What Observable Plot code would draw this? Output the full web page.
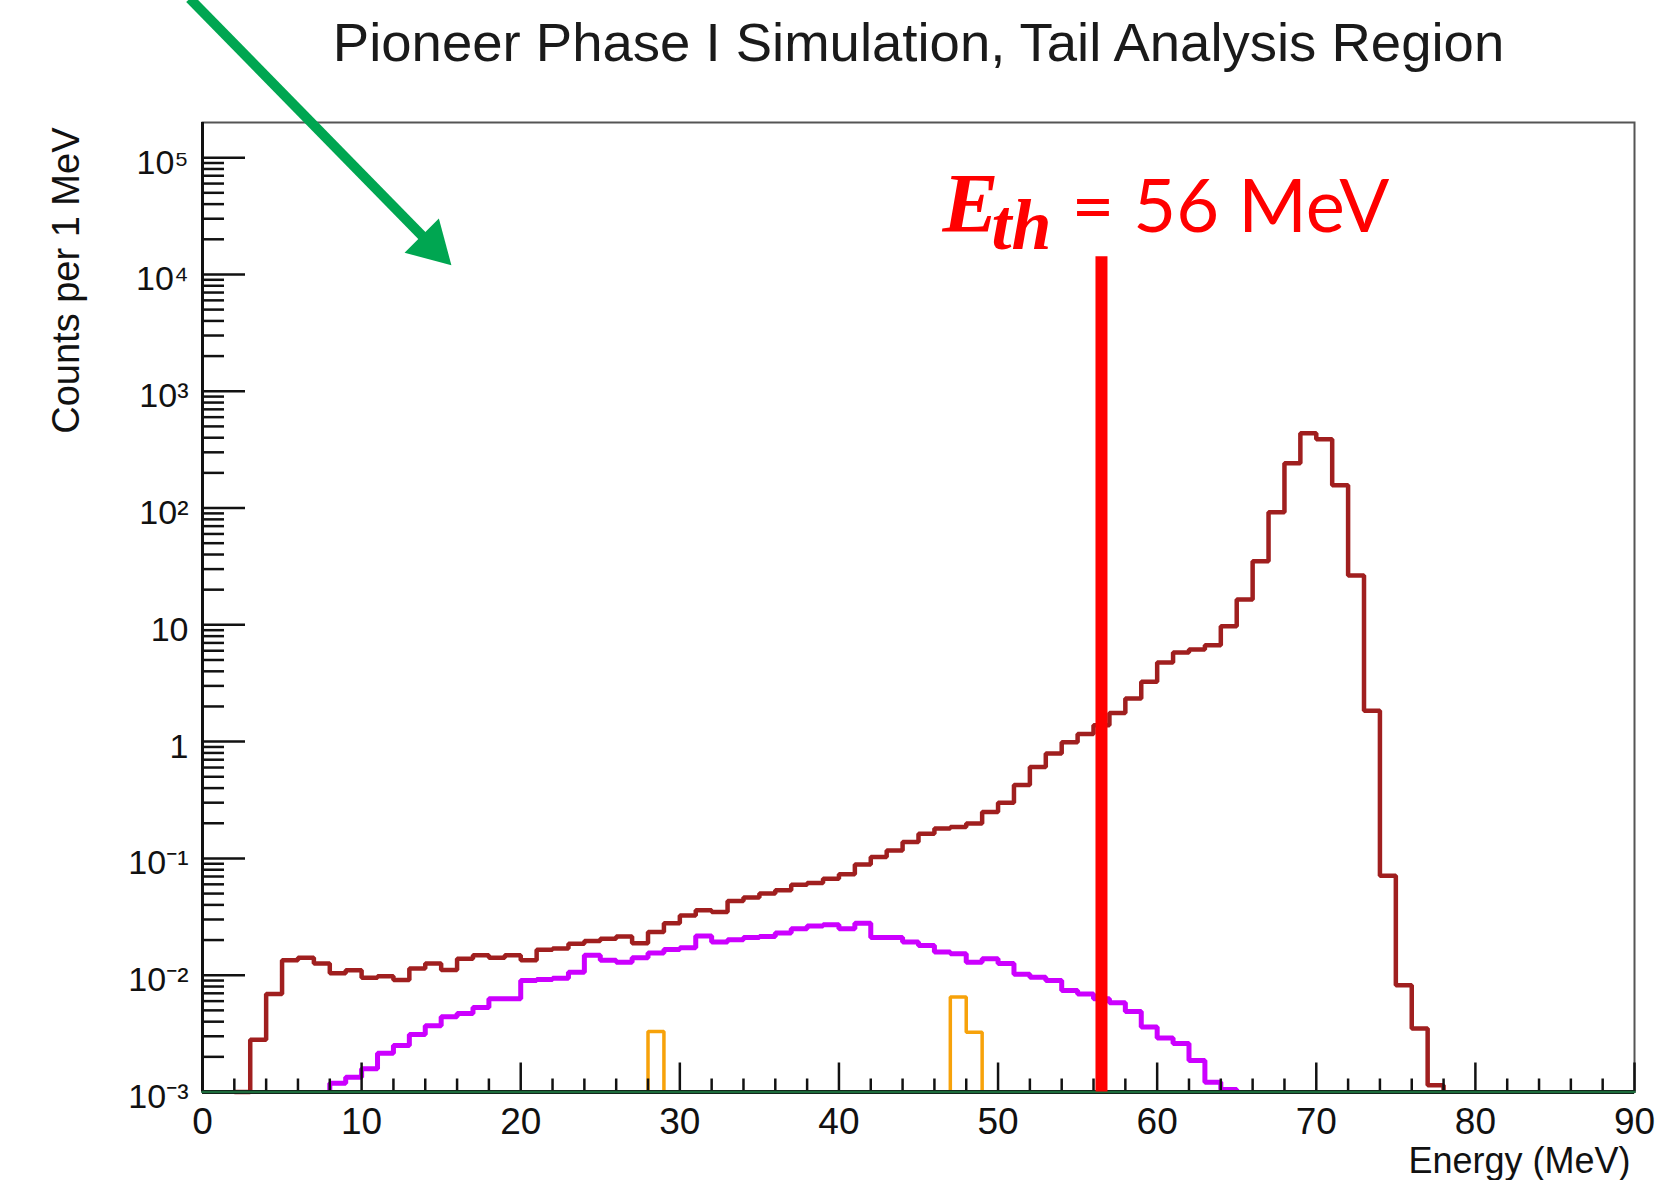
<!DOCTYPE html>
<html>
<head>
<meta charset="utf-8">
<script src="https://cdn.jsdelivr.net/npm/d3@7"></script>
<script src="https://cdn.jsdelivr.net/npm/@observablehq/plot@0.6"></script>
<style>
  html, body { margin: 0; padding: 0; background: #fff; }
  #chart svg { display: block; }
</style>
</head>
<body>
<div id="chart"></div>
<script>
// ---------- data (1 MeV bins, value = counts in bin [edge, edge+1)) ----------
const title = "Pioneer Phase I Simulation, Tail Analysis Region";
const xLabel = "Energy (MeV)";
const yLabel = "Counts per 1 MeV";

const floorValue = 1e-3;            // log-axis floor (empty bins drawn here)
const yTop = 2e5;
const xRange = [0, 90];

// dark red histogram: first bin lower edge 3, empty from 2
const maroonLead = 2;
const maroonStart = 3;
const maroonCounts = [
  0.0028, 0.0069, 0.0134, 0.0141, 0.0126, 0.0104, 0.0110, 0.0095, 0.0098, 0.0091,   // 3-12
  0.0114, 0.0126, 0.0111, 0.0138, 0.0148, 0.0141, 0.0148, 0.0134, 0.0165, 0.0169,   // 13-22
  0.0186, 0.0196, 0.0205, 0.0215, 0.0188, 0.0234, 0.0279, 0.0325, 0.0360, 0.0347,   // 23-32
  0.0432, 0.0462, 0.0500, 0.0533, 0.0596, 0.0616, 0.0671, 0.0731, 0.0885, 0.103,    // 33-42
  0.117, 0.138, 0.163, 0.180, 0.186, 0.199, 0.250, 0.300, 0.425, 0.607,             // 43-52
  0.79, 0.99, 1.16, 1.38, 1.76, 2.34, 3.25, 4.75, 5.8, 6.15,                        // 53-62
  6.7, 9.7, 16.5, 35, 92, 242, 437, 388, 157, 26.5,                                 // 63-72
  1.84, 0.071, 0.0082, 0.0035, 0.00114                                              // 73-77
];

// violet histogram: first bin lower edge 8
const violetStart = 8;
const violetCounts = [
  0.00119, 0.00134, 0.00158, 0.00215, 0.0025, 0.0031, 0.0037, 0.0044, 0.0047, 0.0053, // 8-17
  0.0063, 0.0063, 0.0090, 0.0092, 0.0094, 0.0106, 0.0148, 0.0134, 0.0129, 0.0141,     // 18-27
  0.0155, 0.0166, 0.0172, 0.0217, 0.0192, 0.0201, 0.0210, 0.0215, 0.0230, 0.0250,     // 28-37
  0.0264, 0.0271, 0.0250, 0.0279, 0.0210, 0.0210, 0.0192, 0.0180, 0.0158, 0.0153,     // 38-47
  0.0129, 0.0138, 0.0126, 0.0102, 0.0096, 0.0090, 0.0074, 0.0069, 0.0063, 0.0058,     // 48-57
  0.0049, 0.0036, 0.0029, 0.0026, 0.00186, 0.00121, 0.00105                           // 58-64
];

// orange histogram: two isolated groups
const orangeStarts = [28, 47];
const orangeCounts = [[0.0033], [0.0065, 0.00325]];

// threshold annotation
const thresholdE = 56.5;
const thresholdTop = 1.42e4;
const thresholdLabelY = 2.3e4;

// green arrow annotation (data coordinates, starts above the frame)
const arrowFrom = {x: -0.8, y: 2.3e6};
const arrowHead = {x: 14.4, y: 1.77e4};

// axes
const xMajor = d3.range(0, 91, 10);
const xMinor = d3.range(0, 91, 2).filter(d => d % 10 !== 0);
const yDecades = [1e-3, 1e-2, 1e-1, 1, 10, 1e2, 1e3, 1e4, 1e5];
const yTickLabels = ["10\u207B\u00B3", "10\u207B\u00B2", "10\u207B\u00B9", "1", "10", "10\u00B2", "10\u00B3", "10\u2074", "10\u2075"];
const yMinor = yDecades.slice(0, -1).flatMap(d => d3.range(2, 10).map(k => k * d));

// ---------- step builders ----------
function stepPoints(lead, start, values, group) {
  const pts = [{x: lead, y: floorValue, g: group}];
  values.forEach((v, i) => pts.push({x: start + i, y: v, g: group}));
  pts.push({x: start + values.length, y: floorValue, g: group});
  return pts;
}
const maroonSteps = stepPoints(maroonLead, maroonStart, maroonCounts, "m");
const violetSteps = stepPoints(violetStart, violetStart, violetCounts, "v");
const orangeSteps = orangeStarts.flatMap((s, j) => stepPoints(s, s, orangeCounts[j], "o" + j));
const greenSteps = [{x: xRange[0], y: floorValue}, {x: xRange[1], y: floorValue}];

// ---------- layout ----------
const W = 1660, H = 1180;
const mL = 202, mR = 26, mT = 122, mB = 88.5;
const frameW = W - mL - mR, frameH = H - mT - mB;

const chart = Plot.plot({
  width: W,
  height: H,
  marginLeft: mL,
  marginRight: mR,
  marginTop: mT,
  marginBottom: mB,
  style: {fontFamily: "'Liberation Sans', Arial, Helvetica, sans-serif", background: "#fff", overflow: "visible"},
  x: {domain: xRange, axis: null},
  y: {type: "log", domain: [floorValue, yTop], axis: null},
  marks: [
    // histograms
    Plot.line(maroonSteps, {x: "x", y: "y", curve: "step-after", stroke: "#a01f1f", strokeWidth: 4.5, strokeLinejoin: "miter", strokeLinecap: "butt"}),
    Plot.line(violetSteps, {x: "x", y: "y", curve: "step-after", stroke: "#cc00ff", strokeWidth: 5, strokeLinejoin: "miter", strokeLinecap: "butt"}),
    Plot.line(orangeSteps, {x: "x", y: "y", z: "g", curve: "step-after", stroke: "#f7a20a", strokeWidth: 3.5, strokeLinejoin: "miter", strokeLinecap: "butt"}),

    // frame
    Plot.frame({stroke: "#555", strokeWidth: 2}),
    // ticks (inward)
    Plot.tickX(xMajor, {x: d => d, insetTop: frameH - 29, stroke: "#111", strokeWidth: 2.5}),
    Plot.tickX(xMinor, {x: d => d, insetTop: frameH - 13, stroke: "#111", strokeWidth: 2.5}),
    Plot.tickY(yDecades, {y: d => d, insetRight: frameW - 43, stroke: "#111", strokeWidth: 2.5}),
    Plot.tickY(yMinor, {y: d => d, insetRight: frameW - 22, stroke: "#111", strokeWidth: 2.5}),
    // left axis line
    Plot.ruleX([xRange[0]], {stroke: "#111", strokeWidth: 3}),
    // bottom axis + empty (green) histogram along the floor
    Plot.ruleY([floorValue], {stroke: "#111", strokeWidth: 4}),
    Plot.line(greenSteps, {x: "x", y: "y", stroke: "#1d6b3c", strokeWidth: 2.5}),

    // tick labels
    Plot.text(xMajor, {x: d => d, frameAnchor: "bottom", lineAnchor: "bottom", dy: 42, fontSize: 37, fill: "#111"}),
    Plot.text(yDecades, {y: d => d, text: (d, i) => yTickLabels[i], frameAnchor: "left", textAnchor: "end", lineAnchor: "bottom", dx: -14, dy: 16, fontSize: 34, fill: "#111"}),

    // axis titles and chart title
    Plot.text([xLabel], {frameAnchor: "bottom-right", textAnchor: "end", lineAnchor: "bottom", dx: -4, dy: 81, fontSize: 36, fill: "#111"}),
    Plot.text([yLabel], {frameAnchor: "top-left", textAnchor: "end", lineAnchor: "bottom", rotate: -90, dx: -124, dy: 5, fontSize: 38, fill: "#111"}),
    Plot.text([title], {frameAnchor: "top", lineAnchor: "bottom", dy: -62, fontSize: 54.5, fill: "#1a1a1a"}),

    // threshold line and label
    Plot.ruleX([thresholdE], {x: d => d, y1: () => floorValue, y2: () => thresholdTop, stroke: "#ff0000", strokeWidth: 12}),
    Plot.text(["E"], {x: () => thresholdE, y: () => thresholdLabelY, textAnchor: "start", lineAnchor: "bottom", dx: -159, fontFamily: "'Liberation Serif', 'DejaVu Serif', serif", fontStyle: "italic", fontWeight: "bold", fontSize: 84, fill: "#ff0000"}),
    Plot.text(["th"], {x: () => thresholdE, y: () => thresholdLabelY, textAnchor: "start", lineAnchor: "bottom", dx: -110, dy: 17, fontFamily: "'Liberation Serif', 'DejaVu Serif', serif", fontStyle: "italic", fontWeight: "bold", fontSize: 72, fill: "#ff0000"}),
    Plot.text(["= 56 MeV"], {x: () => thresholdE, y: () => thresholdLabelY, textAnchor: "start", lineAnchor: "bottom", dx: -30, fontFamily: "Lato, 'Liberation Sans', sans-serif", fontSize: 74, fill: "#ff0000"}),

    // green arrow
    Plot.link([{x1: arrowFrom.x, y1: arrowFrom.y, x2: arrowHead.x, y2: arrowHead.y}], {x1: "x1", y1: "y1", x2: "x2", y2: "y2", stroke: "#00a651", strokeWidth: 10, strokeLinecap: "butt"}),
    Plot.dot([arrowHead], {x: "x", y: "y", symbol: "triangle", r: 18, rotate: 135, fill: "#00a651", stroke: "none"})
  ]
});
document.getElementById("chart").appendChild(chart);
</script>
</body>
</html>
